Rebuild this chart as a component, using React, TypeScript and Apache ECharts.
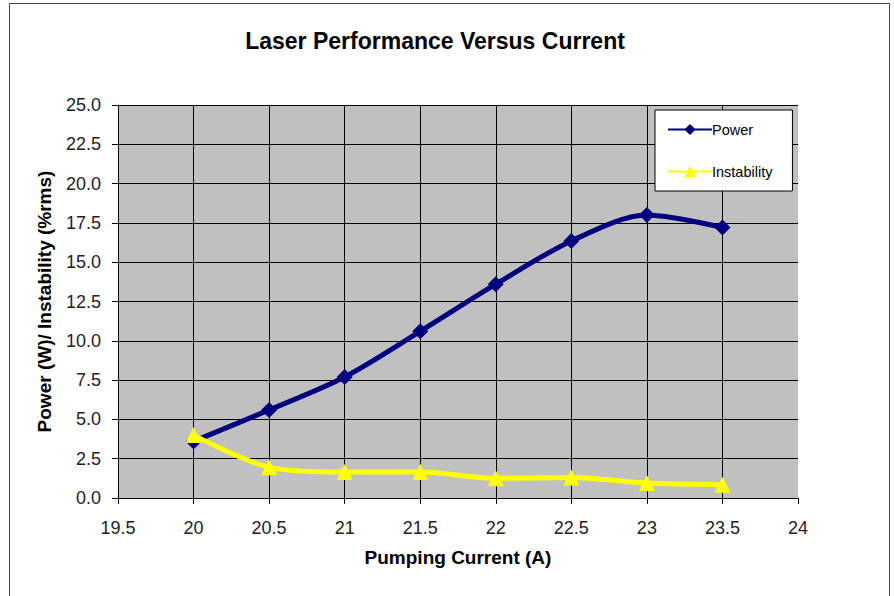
import React, { useEffect, useRef } from "react";
import * as echarts from "echarts";

const currents = [20, 20.5, 21, 21.5, 22, 22.5, 23, 23.5];
const power = [3.6, 5.6, 7.7, 10.6, 13.6, 16.35, 18.0, 17.2];
const instability = [4.0, 1.95, 1.65, 1.65, 1.25, 1.3, 0.95, 0.85];

const pair = (xs: number[], ys: number[]) => xs.map((x, i) => [x, ys[i]]);

export default function App() {
  const ref = useRef<HTMLDivElement>(null);
  useEffect(() => {
    const chart = echarts.init(ref.current!, null, { renderer: "svg" });
    const font = "Arial, 'Liberation Sans', sans-serif";
    chart.setOption({
      animation: false,
      backgroundColor: "#ffffff",
      textStyle: { fontFamily: font },
      title: {
        text: "Laser Performance Versus Current",
        left: 430,
        top: 24,
        textAlign: "center",
        textStyle: { fontFamily: font, fontSize: 23, fontWeight: "bold", color: "#000" },
      },
      graphic: [
        {
          type: "rect",
          shape: { x: 9.5, y: 3.5, width: 880, height: 610 },
          style: { fill: "none", stroke: "#404040", lineWidth: 1 },
          silent: true,
          z: -1,
        },
      ],
      legend: {
        orient: "vertical",
        left: 655,
        top: 110,
        backgroundColor: "#ffffff",
        borderColor: "#000",
        borderWidth: 1,
        borderRadius: 0,
        padding: [12, 20, 12, 12],
        itemGap: 27,
        itemWidth: 44,
        itemHeight: 14,
        textStyle: { fontFamily: font, fontSize: 14.5, color: "#000", padding: [0, 0, 0, -5] },
        data: ["Power", "Instability"],
      },
      grid: { left: 118, right: 96, top: 105, bottom: 98, backgroundColor: "#c0c0c0", show: true, borderWidth: 0 },
      xAxis: {
        type: "value",
        min: 19.5,
        max: 24,
        interval: 0.5,
        name: "Pumping Current (A)",
        nameLocation: "middle",
        nameGap: 50,
        nameTextStyle: { fontFamily: font, fontSize: 19, fontWeight: "bold", color: "#000" },
        axisLine: { show: true, lineStyle: { color: "#000", width: 1 } },
        axisTick: { show: true, length: 6, lineStyle: { color: "#000" } },
        axisLabel: { fontFamily: font, fontSize: 18, color: "#222", margin: 21 },
        splitLine: { show: true, showMinLine: false, showMaxLine: false, lineStyle: { color: "#000", width: 1 } },
      },
      yAxis: {
        type: "value",
        min: 0,
        max: 25,
        interval: 2.5,
        name: "Power (W)/ Instability (%rms)",
        nameLocation: "middle",
        nameGap: 64,
        nameTextStyle: { fontFamily: font, fontSize: 19, fontWeight: "bold", color: "#000" },
        axisLine: { show: true, lineStyle: { color: "#000", width: 1 } },
        axisTick: { show: true, length: 6, lineStyle: { color: "#000" } },
        axisLabel: {
          fontFamily: font,
          fontSize: 18,
          color: "#222",
          margin: 17,
          formatter: (v: number) => v.toFixed(1),
        },
        splitLine: { show: true, lineStyle: { color: "#000", width: 1 } },
      },
      series: [
        {
          name: "Power",
          type: "line",
          data: pair(currents, power),
          smooth: 0.3,
          symbol: "diamond",
          symbolSize: 16,
          lineStyle: { color: "#000080", width: 5 },
          itemStyle: { color: "#000080" },
          z: 3,
        },
        {
          name: "Instability",
          type: "line",
          data: pair(currents, instability),
          smooth: 0.3,
          symbol: "triangle",
          symbolSize: 16,
          lineStyle: { color: "#ffff00", width: 5 },
          itemStyle: { color: "#ffff00" },
          z: 4,
        },
      ],
    });
    return () => chart.dispose();
  }, []);
  return <div ref={ref} style={{ position: "fixed", left: 0, top: 0, width: 894, height: 596 }} />;
}
